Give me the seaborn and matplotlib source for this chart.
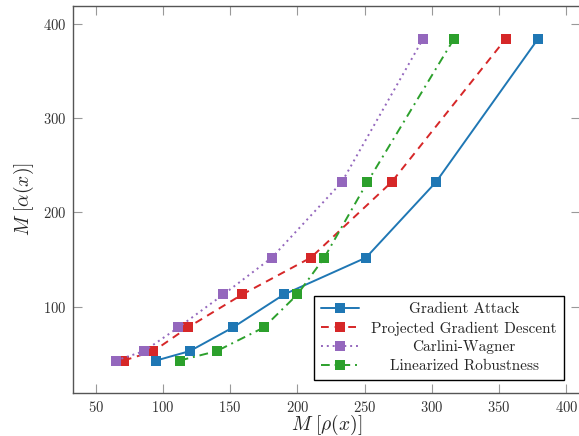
import pandas as pd
import matplotlib
matplotlib.use("Agg")
import matplotlib.pyplot as plt
import seaborn as sns

# values
alpha_levels = [43, 53, 78, 113, 152, 232, 384]
grad_attack = [95, 120, 152, 190, 251, 303, 379]
pgd = [71, 93, 118.5, 159, 210, 270, 355]
carlini = [65, 86, 111.5, 145, 181, 233, 293.5]
linearized = [112.5, 140, 175, 200, 220, 252, 316.5]

series_names = ["Gradient Attack", "Projected Gradient Descent",
                "Carlini-Wagner", "Linearized Robustness"]
series_vals = [grad_attack, pgd, carlini, linearized]
colors = ["#1f77b4", "#d62728", "#9467bd", "#2ca02c"]
styles = ["-", (0, (4, 3)), (0, (1, 2)), (0, (4.5, 2.5, 1, 2.5))]

sns.set_style("ticks")
plt.rcParams["font.family"] = ["cmr10", "DejaVu Serif"]
plt.rcParams["mathtext.fontset"] = "cm"
plt.rcParams["axes.formatter.use_mathtext"] = True

fig = plt.figure(figsize=(5.79, 4.36), dpi=100)
ax = fig.add_axes([0.1269, 0.0993, 0.8748, 0.8858])

for name, vals, c, ls in zip(series_names, series_vals, colors, styles):
    df = pd.DataFrame({"rho": vals, "alpha": alpha_levels})
    sns.lineplot(data=df, x="rho", y="alpha", ax=ax, color=c, marker="s",
                 markersize=7, markeredgewidth=0, linewidth=1.4,
                 linestyle=ls, label=name, sort=False, legend=False)

ax.set_xlim(33.5, 410.1)
ax.set_ylim(8.9, 418.1)
ax.set_xticks([50, 100, 150, 200, 250, 300, 350, 400])
ax.set_yticks([100, 200, 300, 400])

ax.set_xlabel(r"$M\ [\rho(x)]$", fontsize=14, labelpad=-1)
ax.set_ylabel(r"$M\ [\alpha(x)]$", fontsize=14, labelpad=5)

for s in ax.spines.values():
    s.set_visible(True)
    s.set_color("#555555")
    s.set_linewidth(1.0)
ax.tick_params(direction="in", top=True, right=True, length=6.5, width=0.8,
               color="#999999", labelsize=10.5, labelcolor="#333333", pad=5)

leg = ax.legend(handles=list(ax.lines), labels=series_names,
                loc="lower right", bbox_to_anchor=(0.968, 0.033),
                borderaxespad=0, fontsize=11, frameon=True, fancybox=False,
                handlelength=2.5, labelspacing=0.32, borderpad=0.45,
                numpoints=1)
leg.get_frame().set_edgecolor("black")
leg.get_frame().set_linewidth(1.0)
leg.get_frame().set_alpha(1)

# centre the legend labels in their column, like the original
fig.canvas.draw()
renderer = fig.canvas.get_renderer()
widths = [t.get_window_extent(renderer).width for t in leg.get_texts()]
w_max = max(widths)
for t, w in zip(leg.get_texts(), widths):
    t.set_position(((w_max - w) / 2, 0))

fig.savefig("out.png", dpi=100)
